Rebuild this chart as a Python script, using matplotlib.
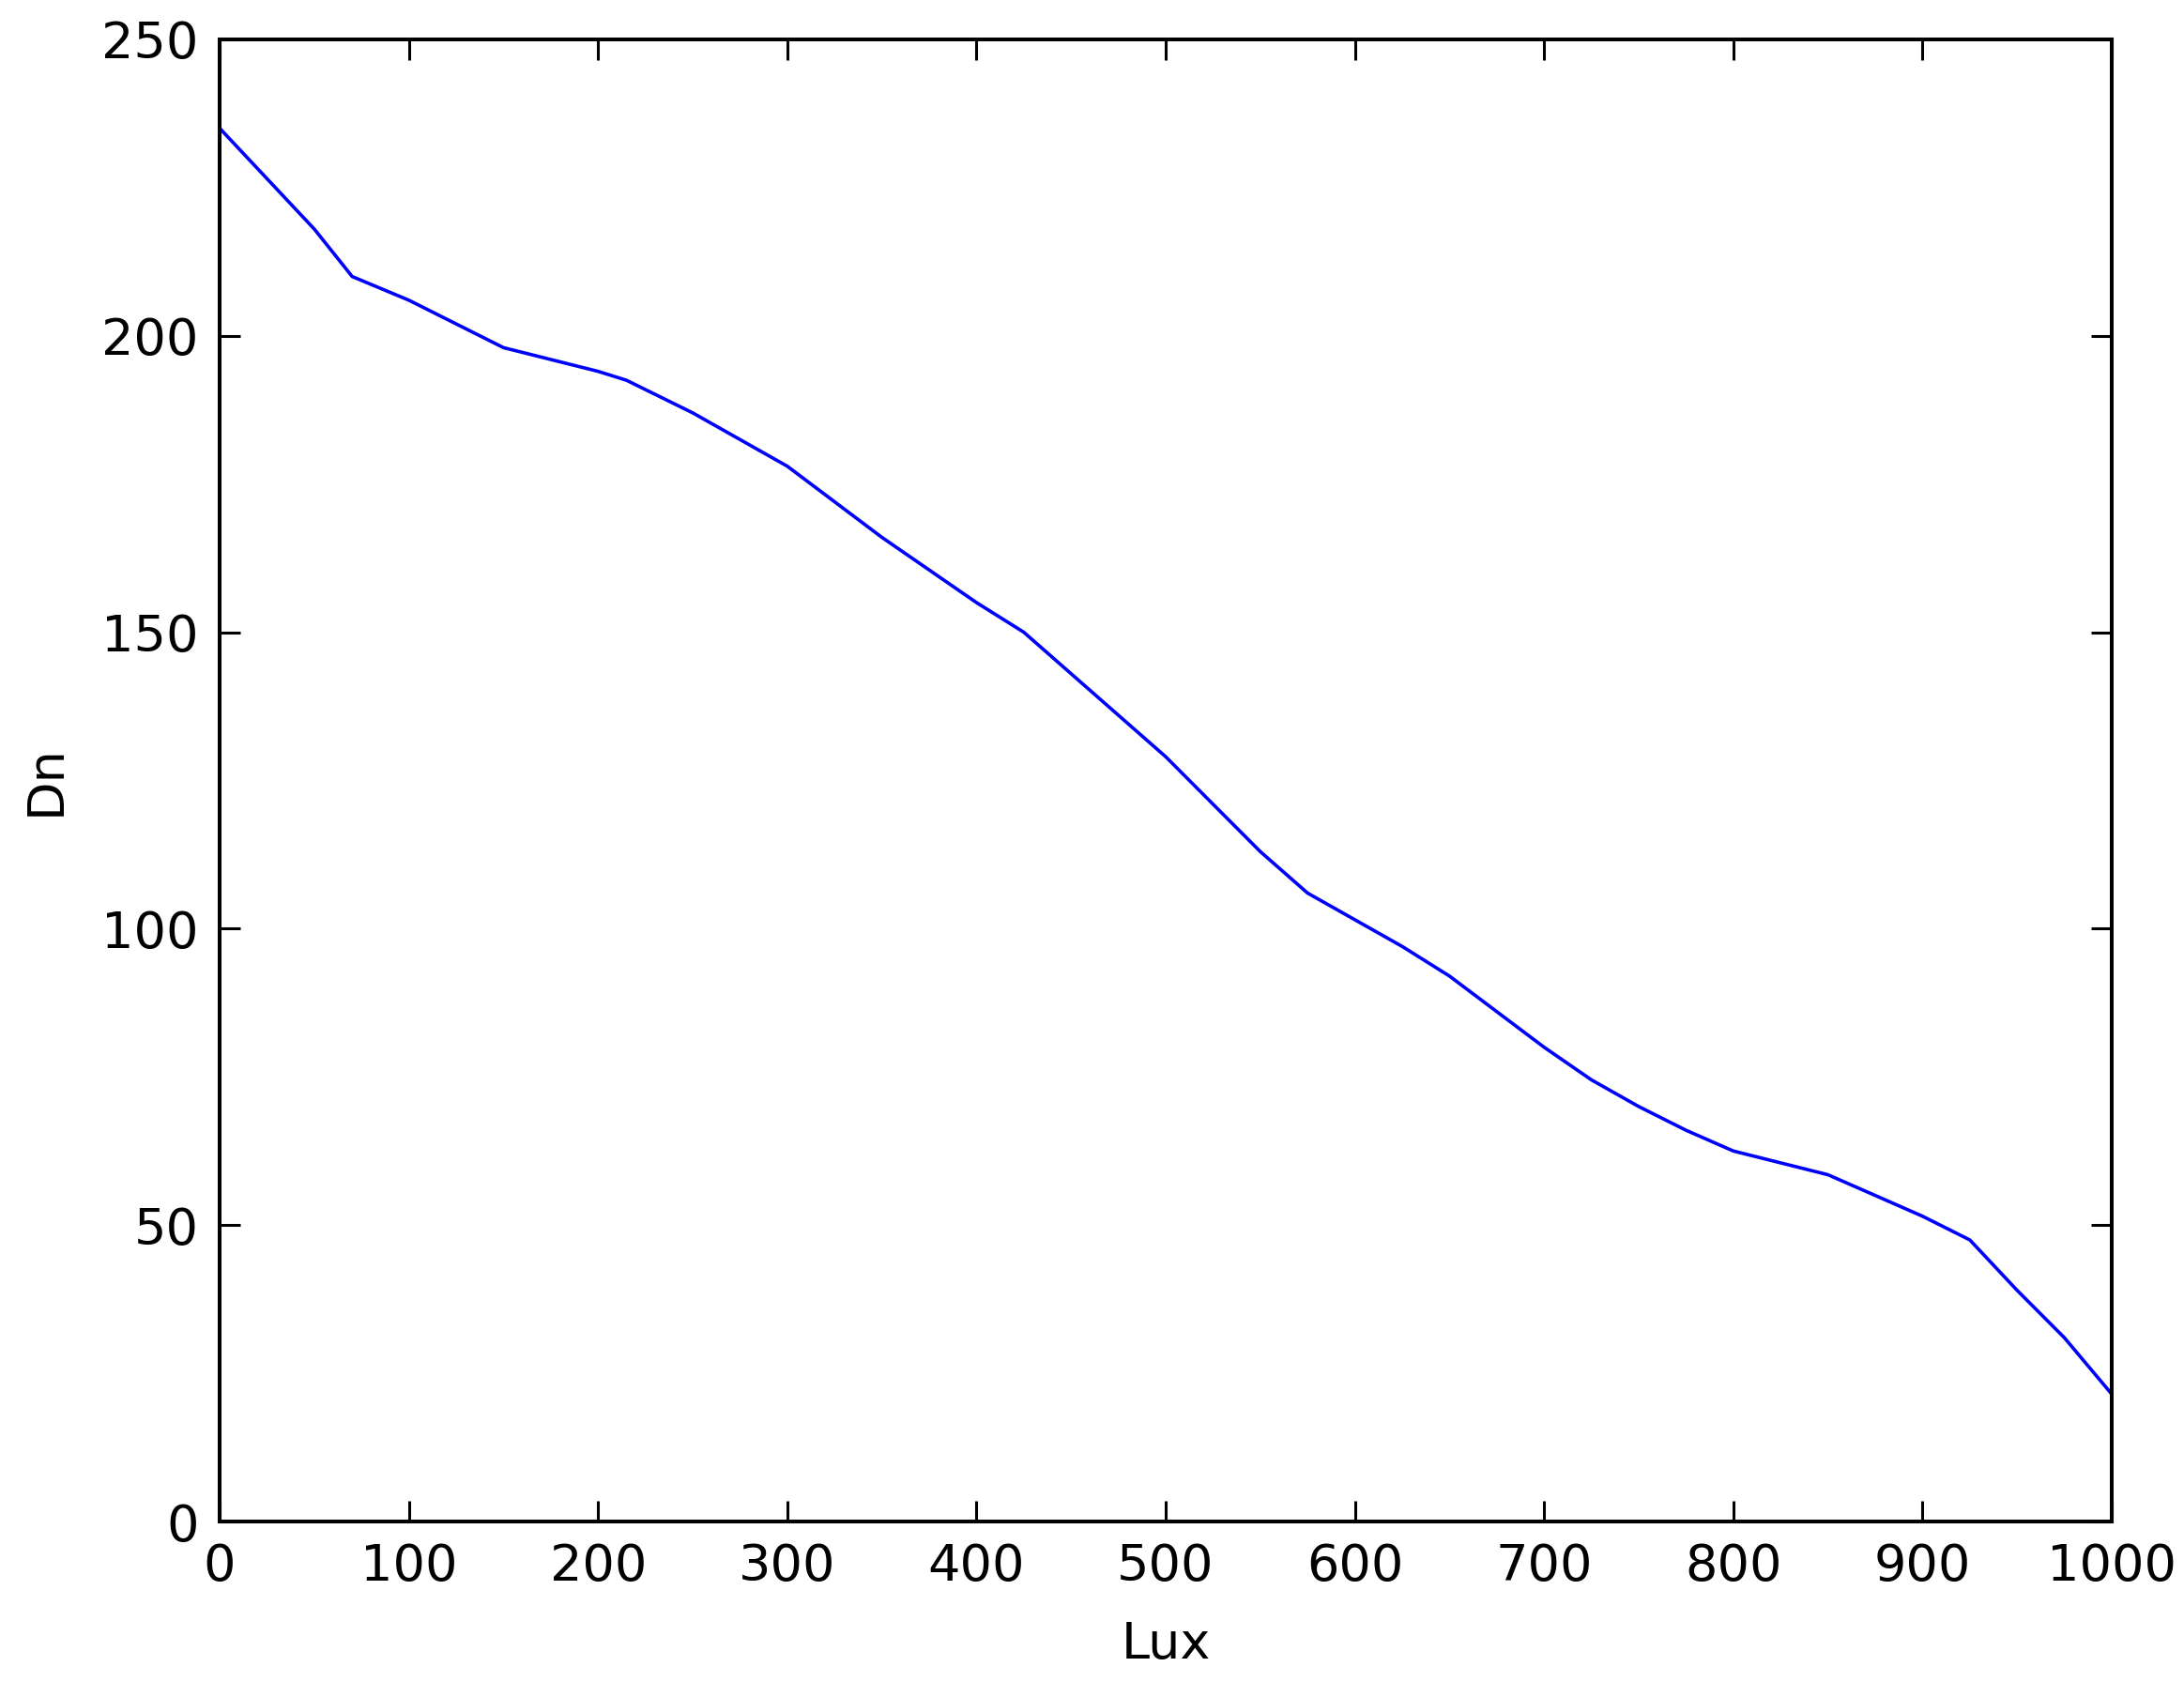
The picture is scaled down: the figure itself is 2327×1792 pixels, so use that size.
import matplotlib
matplotlib.use("Agg")
import matplotlib.pyplot as plt

# values
lux = [0, 25, 50, 70, 100, 125, 150, 175, 200, 215, 250, 275, 300, 325, 350,
       375, 400, 425, 450, 475, 500, 525, 550, 575, 600, 625, 650, 675, 700,
       725, 750, 775, 800, 825, 850, 875, 900, 925, 950, 975, 1000]
dn = [235, 226.5, 218, 210, 206, 202, 198, 196, 194, 192.5, 187, 182.5, 178,
      172, 166, 160.5, 155, 150, 143, 136, 129, 121, 113, 106, 101.5, 97, 92,
      86, 80, 74.5, 70, 66, 62.5, 60.5, 58.5, 55, 51.5, 47.5, 39, 31, 21.5]

xticks = [0, 100, 200, 300, 400, 500, 600, 700, 800, 900, 1000]
yticks = [0, 50, 100, 150, 200, 250]

plt.rcParams['font.family'] = ['DejaVu Sans']

fig = plt.figure(figsize=(23.27, 17.92), dpi=100)
ax = fig.add_axes([0.1006, 0.0954, 0.8663, 0.8812])
ax.plot(lux, dn, color=(0, 0, 1), lw=2.6)

ax.set_xlim(0, 1000)
ax.set_ylim(0, 250)
ax.set_xticks(xticks)
ax.set_yticks(yticks)
ax.tick_params(direction='in', length=16, width=2.2, labelsize=39,
               top=True, right=True, pad=16)
for s in ax.spines.values():
    s.set_linewidth(2.9)

ax.set_xlabel('Lux', fontsize=39, labelpad=22)
ax.set_ylabel('Dn', fontsize=39, labelpad=24)

fig.savefig('out.png', dpi=100)
